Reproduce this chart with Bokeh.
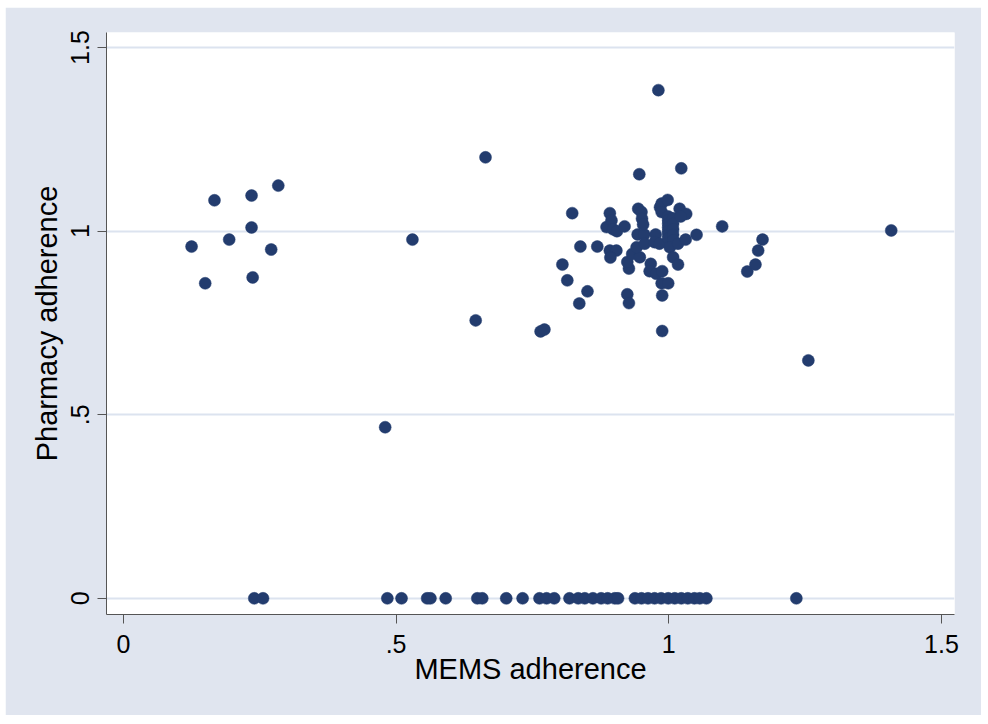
from bokeh.plotting import figure
from bokeh.models import FixedTicker, ColumnDataSource, Range1d
from bokeh.embed import file_html
from bokeh.resources import INLINE

# MEMS adherence (x) and pharmacy adherence (y)
mems = [
    0.125, 0.150, 0.167, 0.194, 0.235, 0.235, 0.237, 0.271, 0.284,
    0.480, 0.530, 0.646, 0.664, 0.765, 0.772,
    0.805, 0.814, 0.823, 0.836, 0.838, 0.851, 0.869,
    0.886, 0.892, 0.895, 0.898, 0.905, 0.892, 0.904, 0.893, 0.919,
    0.924, 0.927, 0.927, 0.924, 0.933, 0.947, 0.941, 0.943, 0.955, 0.956,
    0.944, 0.950, 0.951, 0.953, 0.946,
    0.967, 0.965, 0.977, 0.988, 0.987, 0.999, 0.988, 0.988, 0.976, 0.974,
    0.983, 0.984, 0.987, 0.998, 0.987, 0.981,
    0.999, 0.999, 0.999, 0.999, 0.999, 0.999, 0.999,
    1.008, 1.008, 1.008, 1.008, 1.008,
    1.002, 1.008, 1.017, 1.017, 1.031, 1.051, 1.020, 1.032, 1.022, 1.023, 1.098,
    1.144, 1.159, 1.164, 1.172, 1.256, 1.408,
    # pharmacy adherence of zero
    0.240, 0.256, 0.484, 0.510, 0.557, 0.563, 0.591, 0.649, 0.658, 0.702,
    0.732, 0.763, 0.776, 0.790, 0.818, 0.834, 0.846, 0.861, 0.876, 0.888,
    0.901, 0.907, 0.938, 0.950, 0.962, 0.974, 0.986, 0.999, 1.011, 1.023,
    1.035, 1.047, 1.057, 1.069, 1.234,
]
pharmacy = [
    0.958, 0.858, 1.084, 0.977, 1.097, 1.010, 0.874, 0.950, 1.124,
    0.466, 0.977, 0.757, 1.201, 0.727, 0.732,
    0.909, 0.866, 1.049, 0.803, 0.958, 0.836, 0.958,
    1.011, 1.049, 1.029, 1.005, 1.000, 0.947, 0.947, 0.928, 1.013,
    0.828, 0.804, 0.898, 0.916, 0.938, 0.929, 0.956, 0.991, 0.991, 0.966,
    1.061, 1.052, 1.034, 1.018, 1.155,
    0.911, 0.891, 0.884, 0.891, 0.858, 0.858, 0.825, 0.728, 0.991, 0.970,
    0.966, 1.065, 1.075, 1.085, 1.052, 1.384,
    1.040, 1.030, 1.020, 1.010, 1.000, 0.990, 0.980,
    1.035, 1.020, 1.005, 0.990, 0.975,
    0.956, 0.929, 0.909, 0.966, 0.977, 0.990, 1.061, 1.047, 1.040, 1.171, 1.013,
    0.890, 0.909, 0.947, 0.977, 0.648, 1.002,
    0, 0, 0, 0, 0, 0, 0, 0, 0, 0,
    0, 0, 0, 0, 0, 0, 0, 0, 0, 0,
    0, 0, 0, 0, 0, 0, 0, 0, 0, 0,
    0, 0, 0, 0, 0,
]

tick_values = [0, 0.5, 1, 1.5]
tick_labels = ["0", ".5", "1", "1.5"]

x_title = "MEMS adherence"
y_title = "Pharmacy adherence"

BG = "#e0e5ef"
FONT = "Liberation Sans"

p = figure(width=976, height=708, output_backend="svg", toolbar_location=None,
           x_range=Range1d(-0.031, 1.524), y_range=Range1d(-0.044, 1.541),
           min_border_left=101, min_border_top=25, min_border_right=27, min_border_bottom=101)
p.margin = (7, 0, 0, 5)

p.border_fill_color = BG
p.background_fill_color = "white"
p.outline_line_color = None

src = ColumnDataSource(dict(x=mems, y=pharmacy))
p.scatter("x", "y", source=src, size=12, fill_color="#233c6e", line_color="#233c6e",
          line_width=0.5)

labels = dict(zip(tick_values, tick_labels))
for ax in (p.xaxis[0], p.yaxis[0]):
    ax.ticker = FixedTicker(ticks=tick_values)
    ax.major_label_overrides = labels
    ax.minor_tick_line_color = None
    ax.major_tick_out = 9
    ax.major_tick_in = 0
    ax.axis_line_color = "#555555"
    ax.major_tick_line_color = "#555555"
    ax.major_label_text_font = FONT
    ax.major_label_text_font_size = "25px"
    ax.major_label_text_color = "black"
    ax.axis_label_text_font = FONT
    ax.axis_label_text_font_size = "29px"
    ax.axis_label_text_font_style = "normal"
    ax.axis_label_text_color = "black"

p.xaxis.axis_label = x_title
p.yaxis.axis_label = y_title
p.yaxis.major_label_orientation = "vertical"
p.xaxis.major_label_standoff = 11
p.yaxis.major_label_standoff = 8
p.xaxis.axis_label_standoff = -3
p.yaxis.axis_label_standoff = 6

p.xgrid.grid_line_color = None
p.ygrid.grid_line_color = "#dce3ef"
p.ygrid.grid_line_width = 2
p.ygrid.ticker = FixedTicker(ticks=tick_values)

open("out.html", "w").write(file_html(p, INLINE))
